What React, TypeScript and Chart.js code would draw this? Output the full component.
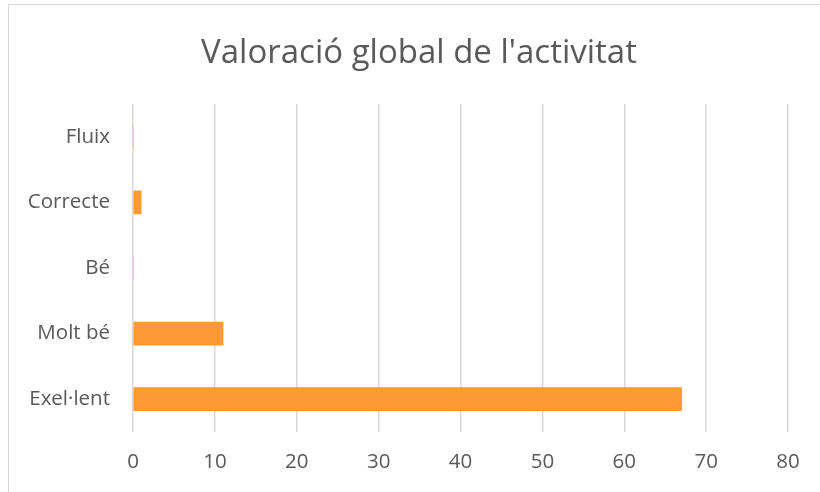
import React, { useEffect, useRef } from "react";
import { Chart, registerables } from "chart.js";

Chart.register(...registerables);

const categories = ["Fluix", "Correcte", "Bé", "Molt bé", "Exel·lent"];
const values = [0, 1, 0, 11, 67];
const xTicksMax = 80;
const xTickStep = 10;
const titleText = "Valoració global de l'activitat";

const titlePlugin = {
  id: "centeredTitle",
  afterDraw(chart: any) {
    const ctx = chart.ctx;
    ctx.save();
    ctx.fillStyle = "#595959";
    ctx.font = "33px 'Open Sans'";
    ctx.textAlign = "center";
    ctx.textBaseline = "alphabetic";
    ctx.fillText(titleText, 419, 63);
    ctx.restore();
  },
};

export default function App() {
  const ref = useRef<HTMLCanvasElement | null>(null);
  useEffect(() => {
    if (!ref.current) return;
    const chart = new Chart(ref.current, {
      type: "bar",
      data: {
        labels: categories,
        datasets: [
          {
            data: values,
            backgroundColor: "#FF9933",
            barThickness: 23,
          },
        ],
      },
      plugins: [titlePlugin],
      options: {
        indexAxis: "y",
        animation: false,
        responsive: false,
        maintainAspectRatio: false,
        layout: { padding: { left: 0, right: 32, top: 104, bottom: 0 } },
        plugins: {
          legend: { display: false },
          tooltip: { enabled: false },
          title: { display: false },
        },
        scales: {
          x: {
            min: 0,
            max: xTicksMax,
            ticks: {
              stepSize: xTickStep,
              color: "#595959",
              font: { family: "'Open Sans'", size: 20.5 },
              padding: 18,
            },
            grid: { color: "#d9d9d9", lineWidth: 1.5, drawTicks: false },
            border: { display: false },
            afterFit: (s: any) => {
              s.height = 60;
            },
          },
          y: {
            ticks: {
              color: "#595959",
              font: { family: "'Open Sans'", size: 20.5 },
              padding: 23,
            },
            grid: { display: false, drawTicks: false },
            border: { display: false },
            afterFit: (s: any) => {
              s.width = 133;
            },
          },
        },
      },
    });
    return () => chart.destroy();
  }, []);
  return (
    <div style={{ position: "fixed", left: 0, top: 0, width: 820, height: 492, overflow: "hidden", background: "#fff" }}>
      <div
        style={{
          position: "absolute",
          left: 8,
          top: 4,
          width: 840,
          height: 520,
          border: "1.5px solid #d9d9d9",
        }}
      />
      <canvas ref={ref} width={820} height={492} style={{ position: "absolute", left: 0, top: 0 }} />
    </div>
  );
}
